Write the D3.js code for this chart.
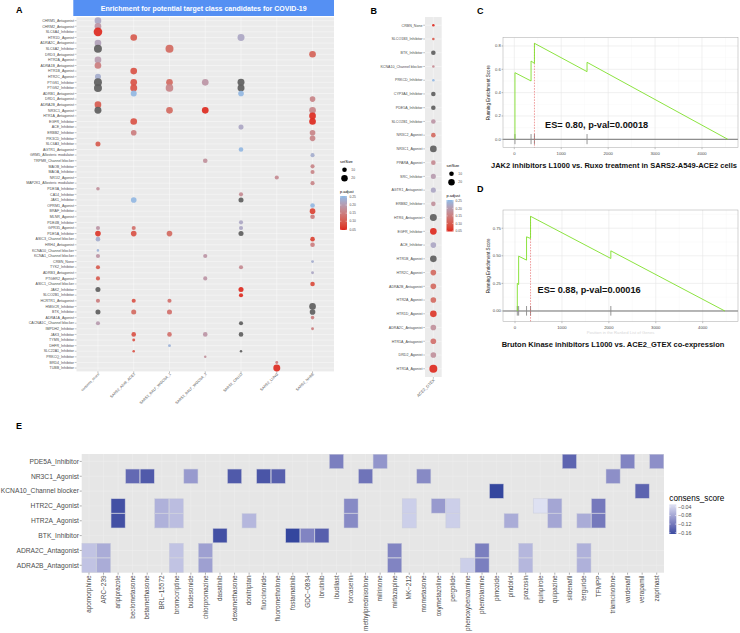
<!DOCTYPE html>
<html><head><meta charset="utf-8">
<script src="https://cdn.jsdelivr.net/npm/d3@7"></script>
<style>
body{margin:0;background:#fff}
svg{display:block}
text{font-family:"Liberation Sans",Arial,Helvetica,sans-serif}
</style>
</head><body>
<svg id="chart" width="740" height="633"></svg>
<script>
// ---------------- DATA ----------------
const aTitle = "Enrichment for potential target class candidates for COVID-19";
const aTargets = ["CHRM5_Antagonist","CHRM2_Antagonist","SLC6A4_Inhibitor","HTR1D_Agonist","ADRA2C_Antagonist","SLC6A2_Inhibitor","DRD3_Antagonist","HTR2A_Agonist","ADRA1B_Antagonist","HTR1B_Agonist","HTR2C_Agonist","PTGS1_Inhibitor","PTGS2_Inhibitor","ADRB1_Antagonist","DRD1_Antagonist","ADRA2B_Antagonist","NR3C1_Agonist","HTR1A_Antagonist","EGFR_Inhibitor","ACE_Inhibitor","ERBB2_Inhibitor","PIK3CD_Inhibitor","SLC6A3_Inhibitor","AGTR1_Antagonist","GRM5_Allosteric modulator","TRPM8_Channel blocker","MAOB_Inhibitor","MAOA_Inhibitor","NR1I2_Agonist","MAP2K1_Allosteric modulator","PDE3A_Inhibitor","CA14_Inhibitor","JAK1_Inhibitor","OPRM1_Agonist","BRAF_Inhibitor","MLNR_Agonist","PDE4B_Inhibitor","GPR35_Agonist","PDE5A_Inhibitor","ASIC3_Channel blocker","HRH4_Antagonist","KCNA10_Channel blocker","KCNA1_Channel blocker","CRBN_None","TYK2_Inhibitor","ADRB3_Antagonist","PTGER2_Agonist","ASIC1_Channel blocker","JAK2_Inhibitor","SLCO2B1_Inhibitor","HCRTR1_Antagonist","HMGCR_Inhibitor","BTK_Inhibitor","ADRA1A_Agonist","CACNA1C_Channel blocker","IMPDH2_Inhibitor","JAK3_Inhibitor","TYMS_Inhibitor","DHFR_Inhibitor","SLC22A1_Inhibitor","PRKCQ_Inhibitor","BRD4_Inhibitor","TUBB_Inhibitor"];
const aSets = ["consens_score","SARS2_A549_ACE2","SARS2_BALF_WGCNA_1","SARS2_BALF_WGCNA_2","SARS2_CALU3","SARS2_LUNG","SARS2_NHBE"];
// [target, set, setSize, p.adjust (null = out of range)]
const aDots = [
 ["CHRM5_Antagonist","consens_score",21,0.22],["CHRM2_Antagonist","consens_score",21,0.19],["SLC6A4_Inhibitor","consens_score",35,0.05],
 ["ADRA2C_Antagonist","consens_score",21,0.21],["SLC6A2_Inhibitor","consens_score",30,null],["HTR2A_Agonist","consens_score",21,0.20],
 ["ADRA1B_Antagonist","consens_score",21,0.15],["HTR2C_Agonist","consens_score",17,0.23],["PTGS1_Inhibitor","consens_score",30,null],
 ["PTGS2_Inhibitor","consens_score",30,null],["ADRA2B_Antagonist","consens_score",21,0.10],["NR3C1_Agonist","consens_score",23,null],
 ["SLC6A3_Inhibitor","consens_score",12,0.10],["PDE3A_Inhibitor","consens_score",6,0.18],["GPR35_Agonist","consens_score",8,0.19],
 ["PDE5A_Inhibitor","consens_score",15,0.06],["ASIC3_Channel blocker","consens_score",10,0.23],["KCNA10_Channel blocker","consens_score",3,0.24],
 ["KCNA1_Channel blocker","consens_score",8,0.19],["TYK2_Inhibitor","consens_score",8,0.10],["PTGER2_Agonist","consens_score",8,0.10],
 ["JAK2_Inhibitor","consens_score",12,null],["HCRTR1_Antagonist","consens_score",8,0.15],["BTK_Inhibitor","consens_score",12,null],
 ["CACNA1C_Channel blocker","consens_score",8,0.20],
 ["HTR1D_Agonist","SARS2_A549_ACE2",21,0.10],["HTR1B_Agonist","SARS2_A549_ACE2",21,0.09],["PTGS1_Inhibitor","SARS2_A549_ACE2",21,0.09],
 ["PTGS2_Inhibitor","SARS2_A549_ACE2",23,0.09],["ADRB1_Antagonist","SARS2_A549_ACE2",17,0.25],["EGFR_Inhibitor","SARS2_A549_ACE2",21,0.09],
 ["ERBB2_Inhibitor","SARS2_A549_ACE2",15,0.15],["JAK1_Inhibitor","SARS2_A549_ACE2",15,0.25],["GPR35_Agonist","SARS2_A549_ACE2",8,0.13],
 ["PDE5A_Inhibitor","SARS2_A549_ACE2",15,0.09],["HCRTR1_Antagonist","SARS2_A549_ACE2",8,0.09],["BTK_Inhibitor","SARS2_A549_ACE2",12,0.12],
 ["JAK3_Inhibitor","SARS2_A549_ACE2",10,0.09],["TYMS_Inhibitor","SARS2_A549_ACE2",4,0.09],["SLC22A1_Inhibitor","SARS2_A549_ACE2",3,0.09],
 ["SLC6A2_Inhibitor","SARS2_BALF_WGCNA_1",30,0.12],["PTGS1_Inhibitor","SARS2_BALF_WGCNA_1",21,0.12],["PTGS2_Inhibitor","SARS2_BALF_WGCNA_1",27,0.16],
 ["NR3C1_Agonist","SARS2_BALF_WGCNA_1",21,0.12],["PDE5A_Inhibitor","SARS2_BALF_WGCNA_1",15,0.12],["HCRTR1_Antagonist","SARS2_BALF_WGCNA_1",8,0.13],
 ["BTK_Inhibitor","SARS2_BALF_WGCNA_1",12,0.13],["JAK3_Inhibitor","SARS2_BALF_WGCNA_1",10,0.13],["DHFR_Inhibitor","SARS2_BALF_WGCNA_1",4,0.24],
 ["PTGS1_Inhibitor","SARS2_BALF_WGCNA_2",21,0.19],["NR3C1_Agonist","SARS2_BALF_WGCNA_2",21,0.05],["TRPM8_Channel blocker","SARS2_BALF_WGCNA_2",10,0.18],
 ["KCNA1_Channel blocker","SARS2_BALF_WGCNA_2",8,0.19],["PTGER2_Agonist","SARS2_BALF_WGCNA_2",8,0.19],["JAK3_Inhibitor","SARS2_BALF_WGCNA_2",10,0.19],
 ["PRKCQ_Inhibitor","SARS2_BALF_WGCNA_2",3,0.18],
 ["HTR1D_Agonist","SARS2_CALU3",23,0.22],["PTGS1_Inhibitor","SARS2_CALU3",23,null],["PTGS2_Inhibitor","SARS2_CALU3",23,null],
 ["ADRB1_Antagonist","SARS2_CALU3",15,0.25],["ACE_Inhibitor","SARS2_CALU3",12,0.22],["AGTR1_Antagonist","SARS2_CALU3",10,0.25],
 ["CA14_Inhibitor","SARS2_CALU3",8,0.17],["JAK1_Inhibitor","SARS2_CALU3",12,null],["PDE4B_Inhibitor","SARS2_CALU3",8,0.22],
 ["GPR35_Agonist","SARS2_CALU3",8,0.22],["PDE5A_Inhibitor","SARS2_CALU3",12,null],["TYK2_Inhibitor","SARS2_CALU3",8,0.17],
 ["JAK2_Inhibitor","SARS2_CALU3",12,0.05],["SLCO2B1_Inhibitor","SARS2_CALU3",8,0.05],["CACNA1C_Channel blocker","SARS2_CALU3",8,null],
 ["JAK3_Inhibitor","SARS2_CALU3",10,null],["SLC22A1_Inhibitor","SARS2_CALU3",3,null],
 ["NR1I2_Agonist","SARS2_LUNG",8,0.17],["BRD4_Inhibitor","SARS2_LUNG",4,0.15],["TUBB_Inhibitor","SARS2_LUNG",23,0.05],
 ["DRD3_Antagonist","SARS2_NHBE",21,0.11],["DRD1_Antagonist","SARS2_NHBE",15,0.16],["NR3C1_Agonist","SARS2_NHBE",21,0.16],
 ["HTR1A_Antagonist","SARS2_NHBE",21,0.05],["EGFR_Inhibitor","SARS2_NHBE",21,0.05],["ERBB2_Inhibitor","SARS2_NHBE",15,0.16],
 ["PIK3CD_Inhibitor","SARS2_NHBE",15,0.16],["GRM5_Allosteric modulator","SARS2_NHBE",8,0.23],["MAOB_Inhibitor","SARS2_NHBE",8,0.16],
 ["MAOA_Inhibitor","SARS2_NHBE",8,0.16],["MAP2K1_Allosteric modulator","SARS2_NHBE",8,0.16],["OPRM1_Agonist","SARS2_NHBE",10,0.25],
 ["BRAF_Inhibitor","SARS2_NHBE",15,0.07],["MLNR_Agonist","SARS2_NHBE",10,0.15],["ASIC3_Channel blocker","SARS2_NHBE",10,0.07],
 ["HRH4_Antagonist","SARS2_NHBE",10,0.15],["CRBN_None","SARS2_NHBE",4,0.23],["ADRB3_Antagonist","SARS2_NHBE",4,0.22],
 ["ASIC1_Channel blocker","SARS2_NHBE",10,0.08],["HMGCR_Inhibitor","SARS2_NHBE",21,null],["BTK_Inhibitor","SARS2_NHBE",15,null],
 ["ADRA1A_Agonist","SARS2_NHBE",6,0.15],["IMPDH2_Inhibitor","SARS2_NHBE",4,0.15]
];
const bTargets = ["CRBN_None","SLCO1B3_Inhibitor","BTK_Inhibitor","KCNA10_Channel blocker","PRKCD_Inhibitor","CYP3A4_Inhibitor","PDE5A_Inhibitor","SLCO2B1_Inhibitor","NR3C2_Agonist","NR3C1_Agonist","PPARA_Agonist","SRC_Inhibitor","AGTR1_Antagonist","ERBB2_Inhibitor","HTR6_Antagonist","EGFR_Inhibitor","ACE_Inhibitor","HTR1B_Agonist","HTR2C_Agonist","ADRA2B_Antagonist","HTR2A_Agonist","HTR1D_Agonist","ADRA2C_Antagonist","HTR1A_Antagonist","DRD2_Agonist","HTR1A_Agonist"];
const bSets = ["ACE2_GTEX"];
const bSizes = [3,3,10,3,3,10,10,10,10,21,10,12,12,10,23,21,15,21,15,15,15,21,15,15,15,30];
const bPadj = [0.05,0.10,null,0.17,0.25,null,null,0.19,0.12,null,0.17,0.20,0.22,0.18,null,0.05,0.22,null,0.12,0.12,0.12,0.06,0.18,0.13,0.18,0.05];
const sizeBreaks = [10, 20];
const padjBreaks = [0.25, 0.20, 0.15, 0.10, 0.05];

const cCaption = "JAK2 inhibitors L1000 vs. Ruxo treatment in SARS2-A549-ACE2 cells";
const cLabel = "ES= 0.80, p-val=0.00018";
const cHits = [14, 357, 429, 1550];
const cPos = [14, 14, 357, 357, 429, 429, 1550, 1550, 4550];
const cScore = [0, 0.571, 0.500, 0.671, 0.651, 0.823, 0.580, 0.660, 0];
const cPeak = 429;
const dCaption = "Bruton Kinase inhibitors L1000 vs. ACE2_GTEX co-expression";
const dLabel = "ES= 0.88, p-val=0.00016";
const dHits = [49, 77, 246, 331, 2042];
const dPos = [49, 49, 77, 77, 246, 246, 331, 331, 2042, 2042, 4472];
const dScore = [0, 0.250, 0.240, 0.497, 0.461, 0.672, 0.657, 0.858, 0.476, 0.545, 0];
const dPeak = 331;
const cXTicks = [0, 1000, 2000, 3000, 4000];
const cYTicks = [0, 0.2, 0.4, 0.6, 0.8];
const dYTicks = [0, 0.25, 0.5, 0.75];

const eTargets = ["PDE5A_Inhibitor","NR3C1_Agonist","KCNA10_Channel blocker","HTR2C_Agonist","HTR2A_Agonist","BTK_Inhibitor","ADRA2C_Antagonist","ADRA2B_Antagonist"];
const eDrugs = ["apomorphine","ARC\u2212239","aripiprazole","beclometasone","betamethasone","BRL\u221215572","bromocriptine","budesonide","chlorpromazine","dasatinib","dexamethasone","donitriptan","fluocinonide","fluorometholone","fostamatinib","GDC\u22120834","ibrutinib","ibudilast","lorcaserin","methylprednisolone","milrinone","mirtazapine","MK\u2212212","mometasone","oxymetazoline","pergolide","phenoxybenzamine","phentolamine","pimozide","pindolol","prazosin","quinpirole","quipazine","sildenafil","terguride","TFMPP","triamcinolone","vardenafil","verapamil","zaprinast"];
const eTiles = [
 ["PDE5A_Inhibitor","ibudilast",-0.115],["PDE5A_Inhibitor","milrinone",-0.095],["PDE5A_Inhibitor","sildenafil",-0.14],["PDE5A_Inhibitor","vardenafil",-0.11],["PDE5A_Inhibitor","zaprinast",-0.10],
 ["NR3C1_Agonist","beclometasone",-0.135],["NR3C1_Agonist","betamethasone",-0.15],["NR3C1_Agonist","budesonide",-0.09],["NR3C1_Agonist","dexamethasone",-0.15],["NR3C1_Agonist","fluocinonide",-0.155],["NR3C1_Agonist","fluorometholone",-0.145],["NR3C1_Agonist","methylprednisolone",-0.125],["NR3C1_Agonist","mometasone",-0.105],["NR3C1_Agonist","triamcinolone",-0.10],
 ["KCNA10_Channel blocker","pimozide",-0.17],["KCNA10_Channel blocker","verapamil",-0.14],
 ["HTR2C_Agonist","aripiprazole",-0.16],["HTR2C_Agonist","BRL\u221215572",-0.07],["HTR2C_Agonist","bromocriptine",-0.06],["HTR2C_Agonist","lorcaserin",-0.105],["HTR2C_Agonist","MK\u2212212",-0.045],["HTR2C_Agonist","oxymetazoline",-0.09],["HTR2C_Agonist","pergolide",-0.045],["HTR2C_Agonist","quinpirole",-0.03],["HTR2C_Agonist","quipazine",-0.08],["HTR2C_Agonist","TFMPP",-0.12],
 ["HTR2A_Agonist","aripiprazole",-0.16],["HTR2A_Agonist","BRL\u221215572",-0.07],["HTR2A_Agonist","bromocriptine",-0.06],["HTR2A_Agonist","donitriptan",-0.065],["HTR2A_Agonist","lorcaserin",-0.105],["HTR2A_Agonist","MK\u2212212",-0.045],["HTR2A_Agonist","pergolide",-0.045],["HTR2A_Agonist","pindolol",-0.075],["HTR2A_Agonist","quipazine",-0.08],["HTR2A_Agonist","terguride",-0.075],["HTR2A_Agonist","TFMPP",-0.12],
 ["BTK_Inhibitor","dasatinib",-0.16],["BTK_Inhibitor","fostamatinib",-0.17],["BTK_Inhibitor","GDC\u22120834",-0.11],["BTK_Inhibitor","ibrutinib",-0.145],
 ["ADRA2C_Antagonist","apomorphine",-0.055],["ADRA2C_Antagonist","ARC\u2212239",-0.075],["ADRA2C_Antagonist","bromocriptine",-0.055],["ADRA2C_Antagonist","chlorpromazine",-0.085],["ADRA2C_Antagonist","mirtazapine",-0.11],["ADRA2C_Antagonist","phentolamine",-0.115],["ADRA2C_Antagonist","prazosin",-0.065],["ADRA2C_Antagonist","terguride",-0.07],
 ["ADRA2B_Antagonist","apomorphine",-0.055],["ADRA2B_Antagonist","ARC\u2212239",-0.075],["ADRA2B_Antagonist","bromocriptine",-0.055],["ADRA2B_Antagonist","chlorpromazine",-0.085],["ADRA2B_Antagonist","mirtazapine",-0.11],["ADRA2B_Antagonist","phenoxybenzamine",-0.045],["ADRA2B_Antagonist","phentolamine",-0.115],["ADRA2B_Antagonist","prazosin",-0.065],["ADRA2B_Antagonist","terguride",-0.07]
];
const eBreaks = [-0.04, -0.08, -0.12, -0.16];
const eRange = [-0.166, -0.028];

// ---------------- DRAW ----------------
const svg = d3.select("#chart");
const TXT = "#4d4d4d";
const NA_COL = "#5e5e5e";
const padjCol = d3.scaleLinear().domain([0.05, 0.25]).range(["#dd2a20", "#93b7e2"]).interpolate(d3.interpolateLab);
const sizeR = d3.scaleSqrt().domain([0, 40]).range([0, 4.6]);
const colOf = p => p == null ? NA_COL : padjCol(p);

function panelLabel(t, x, y) {
  svg.append("text").attr("x", x).attr("y", y).attr("font-size", 9).attr("font-weight", "bold").text(t);
}
panelLabel("A", 16, 13); panelLabel("B", 370.5, 13.5); panelLabel("C", 477, 13.5); panelLabel("D", 477, 192); panelLabel("E", 16, 428.5);

// ---- Panel A ----
const A = {l: 76.5, r: 334, t: 17.3, b: 371.4};
const xA = d3.scalePoint().domain(aSets).range([A.l, A.r]).padding(0.6);
const yA = d3.scalePoint().domain(aTargets).range([A.t, A.b]).padding(0.6);
svg.append("rect").attr("x", 73.3).attr("y", 0).attr("width", A.r - 73.3).attr("height", 16).attr("fill", "#5590f3");
svg.append("text").attr("x", (73.3 + A.r) / 2).attr("y", 8.4).attr("dy", "0.35em").attr("text-anchor", "middle")
  .attr("fill", "#fff").attr("font-size", 7).attr("font-weight", "bold").text(aTitle);
const gA = svg.append("g");
gA.append("rect").attr("x", A.l).attr("y", A.t).attr("width", A.r - A.l).attr("height", A.b - A.t).attr("fill", "#ebebeb");
gA.selectAll(".hg").data(aTargets).join("line").attr("x1", A.l).attr("x2", A.r)
  .attr("y1", d => yA(d)).attr("y2", d => yA(d)).attr("stroke", "#fff").attr("stroke-width", 0.4);
gA.selectAll(".vg").data(aSets).join("line").attr("y1", A.t).attr("y2", A.b)
  .attr("x1", d => xA(d)).attr("x2", d => xA(d)).attr("stroke", "#fff").attr("stroke-width", 0.4);
gA.selectAll(".rt").data(aTargets).join("line").attr("x1", A.l - 1.8).attr("x2", A.l)
  .attr("y1", d => yA(d)).attr("y2", d => yA(d)).attr("stroke", "#333").attr("stroke-width", 0.3);
gA.selectAll(".rl").data(aTargets).join("text").attr("x", A.l - 2.6).attr("y", d => yA(d)).attr("dy", "0.35em")
  .attr("text-anchor", "end").attr("font-size", 3.6).attr("fill", TXT).text(d => d);
gA.selectAll(".ct").data(aSets).join("line").attr("y1", A.b).attr("y2", A.b + 1.8)
  .attr("x1", d => xA(d)).attr("x2", d => xA(d)).attr("stroke", "#333").attr("stroke-width", 0.3);
gA.selectAll(".cl").data(aSets).join("text").attr("transform", d => `translate(${xA(d) + 1.6},${A.b + 3})rotate(-45)`)
  .attr("text-anchor", "end").attr("font-size", 3.6).attr("fill", TXT).text(d => d);
gA.selectAll(".dot").data(aDots).join("circle").attr("cx", d => xA(d[1])).attr("cy", d => yA(d[0]))
  .attr("r", d => sizeR(d[2])).attr("fill", d => colOf(d[3])).attr("fill-opacity", 0.92);

// legends (A and B)
const defs = svg.append("defs");
const pg = defs.append("linearGradient").attr("id", "padjGrad").attr("x1", 0).attr("y1", 0).attr("x2", 0).attr("y2", 1);
d3.range(0, 1.001, 0.1).forEach(t => pg.append("stop").attr("offset", t).attr("stop-color", padjCol(0.256 - t * 0.21)));
function dotLegend(x, y0, dx, pTop, pBot, lx) {
  const g = svg.append("g");
  g.append("text").attr("x", x).attr("y", y0).attr("font-size", 3.9).attr("fill", "#000").text("setSize");
  sizeBreaks.forEach((s, i) => {
    const cy = y0 + 7.3 + i * 8.4;
    g.append("circle").attr("cx", x + dx).attr("cy", cy).attr("r", sizeR(s)).attr("fill", "#000");
    g.append("text").attr("x", x + dx + 6.8).attr("y", cy).attr("dy", "0.35em").attr("font-size", 3.3).attr("fill", TXT).text(s);
  });
  g.append("text").attr("x", x).attr("y", pTop - 3.5).attr("font-size", 3.9).attr("fill", "#000").text("p.adjust");
  g.append("rect").attr("x", x).attr("y", pTop).attr("width", 7).attr("height", pBot - pTop).attr("fill", "url(#padjGrad)");
  const py = d3.scaleLinear().domain([0.256, 0.046]).range([pTop, pBot]);
  padjBreaks.forEach(p => {
    g.append("line").attr("x1", x).attr("x2", x + 1.4).attr("y1", py(p)).attr("y2", py(p)).attr("stroke", "#fff").attr("stroke-width", 0.4);
    g.append("line").attr("x1", x + 5.6).attr("x2", x + 7).attr("y1", py(p)).attr("y2", py(p)).attr("stroke", "#fff").attr("stroke-width", 0.4);
    g.append("text").attr("x", lx).attr("y", py(p)).attr("dy", "0.35em").attr("font-size", 3.3).attr("fill", TXT).text(p.toFixed(2));
  });
}
dotLegend(340, 162.5, 4.5, 196, 230, 349.5);
dotLegend(446.5, 166.5, 5, 200, 231.5, 455.5);

// ---- Panel B ----
const B = {l: 425, r: 441.7, t: 17, b: 377};
const xB = d3.scalePoint().domain(bSets).range([B.l, B.r]).padding(0.6);
const yB = d3.scalePoint().domain(bTargets).range([B.t, B.b]).padding(0.6);
const gB = svg.append("g");
gB.append("rect").attr("x", B.l).attr("y", B.t).attr("width", B.r - B.l).attr("height", B.b - B.t).attr("fill", "#ebebeb");
gB.selectAll(".hg").data(bTargets).join("line").attr("x1", B.l).attr("x2", B.r)
  .attr("y1", d => yB(d)).attr("y2", d => yB(d)).attr("stroke", "#fff").attr("stroke-width", 0.4);
gB.append("line").attr("x1", xB(bSets[0])).attr("x2", xB(bSets[0])).attr("y1", B.t).attr("y2", B.b).attr("stroke", "#fff").attr("stroke-width", 0.4);
gB.selectAll(".rt").data(bTargets).join("line").attr("x1", B.l - 1.8).attr("x2", B.l)
  .attr("y1", d => yB(d)).attr("y2", d => yB(d)).attr("stroke", "#333").attr("stroke-width", 0.3);
gB.selectAll(".rl").data(bTargets).join("text").attr("x", B.l - 2.6).attr("y", d => yB(d)).attr("dy", "0.35em")
  .attr("text-anchor", "end").attr("font-size", 3.6).attr("fill", TXT).text(d => d);
gB.append("line").attr("x1", xB(bSets[0])).attr("x2", xB(bSets[0])).attr("y1", B.b).attr("y2", B.b + 1.8).attr("stroke", "#333").attr("stroke-width", 0.3);
gB.append("text").attr("transform", `translate(${xB(bSets[0]) + 1.8},${B.b + 3.5})rotate(-45)`)
  .attr("text-anchor", "end").attr("font-size", 4).attr("fill", TXT).text(bSets[0]);
gB.selectAll(".dot").data(bTargets).join("circle").attr("cx", xB(bSets[0])).attr("cy", d => yB(d))
  .attr("r", (d, i) => sizeR(bSizes[i])).attr("fill", (d, i) => colOf(bPadj[i])).attr("fill-opacity", 0.92);

// ---- Panels C & D (GSEA) ----
function gsea(P, xDom, yDom, yTicks, yFmt, pos, score, hits, peak, label, labX, labY, caption, capX, capY, xTitle) {
  const x = d3.scaleLinear().domain(xDom).range([P.l, P.r]);
  const y = d3.scaleLinear().domain(yDom).range([P.b, P.t]);
  const g = svg.append("g");
  g.append("rect").attr("x", P.l).attr("y", P.t).attr("width", P.r - P.l).attr("height", P.b - P.t).attr("fill", "#fff");
  const xMinor = [500, 1500, 2500, 3500, 4500];
  const step = yTicks[1] - yTicks[0];
  const yMinor = yTicks.map(t => t + step / 2).concat([yTicks[0] - step / 2]).filter(v => v < yDom[1] && v > yDom[0]);
  xMinor.forEach(v => g.append("line").attr("x1", x(v)).attr("x2", x(v)).attr("y1", P.t).attr("y2", P.b).attr("stroke", "#f3f3f3").attr("stroke-width", 0.35));
  yMinor.forEach(v => g.append("line").attr("y1", y(v)).attr("y2", y(v)).attr("x1", P.l).attr("x2", P.r).attr("stroke", "#f3f3f3").attr("stroke-width", 0.35));
  cXTicks.forEach(v => g.append("line").attr("x1", x(v)).attr("x2", x(v)).attr("y1", P.t).attr("y2", P.b).attr("stroke", "#e6e6e6").attr("stroke-width", 0.6));
  yTicks.forEach(v => g.append("line").attr("y1", y(v)).attr("y2", y(v)).attr("x1", P.l).attr("x2", P.r).attr("stroke", "#e6e6e6").attr("stroke-width", 0.6));
  g.append("line").attr("x1", P.l).attr("x2", P.r).attr("y1", y(0)).attr("y2", y(0)).attr("stroke", "#666").attr("stroke-width", 0.9);
  g.selectAll(".hit").data(hits).join("line").attr("x1", d => x(d)).attr("x2", d => x(d))
    .attr("y1", y(0.045)).attr("y2", y(-0.042)).attr("stroke", "#8a8a8a").attr("stroke-width", 0.9);
  g.append("line").attr("x1", x(peak)).attr("x2", x(peak)).attr("y1", y(d3.max(score))).attr("y2", P.b)
    .attr("stroke", "#e45a5a").attr("stroke-width", 0.6).attr("stroke-dasharray", "1.6,1.2");
  const pts = pos.map((p, i) => [p, score[i]]);
  g.append("path").attr("d", d3.line().x(d => x(d[0])).y(d => y(d[1]))(pts))
    .attr("fill", "none").attr("stroke", "#7fe02a").attr("stroke-width", 0.9);
  g.append("rect").attr("x", P.l).attr("y", P.t).attr("width", P.r - P.l).attr("height", P.b - P.t)
    .attr("fill", "none").attr("stroke", "#a6a6a6").attr("stroke-width", 0.5);
  yTicks.forEach(v => {
    g.append("line").attr("x1", P.l - 1.5).attr("x2", P.l).attr("y1", y(v)).attr("y2", y(v)).attr("stroke", "#333").attr("stroke-width", 0.3);
    g.append("text").attr("x", P.l - 2.2).attr("y", y(v)).attr("dy", "0.35em").attr("text-anchor", "end")
      .attr("font-size", 4.2).attr("fill", TXT).text(yFmt(v));
  });
  cXTicks.forEach(v => {
    g.append("line").attr("x1", x(v)).attr("x2", x(v)).attr("y1", P.b).attr("y2", P.b + 1.5).attr("stroke", "#333").attr("stroke-width", 0.3);
    g.append("text").attr("x", x(v)).attr("y", P.b + 5.4).attr("dy", "0.35em").attr("text-anchor", "middle")
      .attr("font-size", 4.2).attr("fill", TXT).text(v);
  });
  g.append("text").attr("transform", `translate(${P.l - 13.5},${(P.t + P.b) / 2})rotate(-90)`).attr("text-anchor", "middle")
    .attr("font-size", 4.6).attr("fill", "#222").text("Running Enrichment Score");
  if (xTitle) g.append("text").attr("x", (P.l + P.r) / 2).attr("y", P.b + 11).attr("dy", "0.35em").attr("text-anchor", "middle")
    .attr("font-size", 4.2).attr("fill", "#d8d8d8").text(xTitle);
  g.append("text").attr("x", labX).attr("y", labY).attr("dy", "0.35em").attr("font-size", 9.2).attr("font-weight", "bold")
    .attr("fill", "#111").text(label);
  g.append("text").attr("x", capX).attr("y", capY).attr("dy", "0.35em").attr("text-anchor", "middle").attr("font-size", 7.5).attr("font-weight", "bold")
    .attr("fill", "#111").text(caption);
}
gsea({l: 503, r: 738, t: 37.7, b: 147.7}, [-241, 4767], [-0.072, 0.871], cYTicks, d3.format(".1f"),
  cPos, cScore, cHits, cPeak, cLabel, 545, 124.5, cCaption, 614, 165.8, null);
gsea({l: 503, r: 738, t: 210, b: 321.7}, [-256, 4752], [-0.097, 0.915], dYTicks, d3.format(".2f"),
  dPos, dScore, dHits, dPeak, dLabel, 537.5, 289.5, dCaption, 613, 344.2, "Position in the Ranked List of Genes");

// ---- Panel E (heatmap) ----
const E = {l: 81.7, r: 664, t: 454, b: 572.7};
const xE = d3.scaleBand().domain(eDrugs).range([E.l, E.r]);
const yE = d3.scaleBand().domain(eTargets).range([E.t, E.b]);
const eCol = d3.scaleLinear().domain(eRange).range(["#3a4aa0", "#e0e3f3"]).interpolate(d3.interpolateLab);
const gE = svg.append("g");
gE.append("rect").attr("x", E.l).attr("y", E.t).attr("width", E.r - E.l).attr("height", E.b - E.t).attr("fill", "#e6e6e6");
gE.selectAll(".vg").data(eDrugs).join("line").attr("x1", d => xE(d) + xE.bandwidth() / 2).attr("x2", d => xE(d) + xE.bandwidth() / 2)
  .attr("y1", E.t).attr("y2", E.b).attr("stroke", "#efefef").attr("stroke-width", 0.5);
gE.selectAll(".hg").data(eTargets).join("line").attr("y1", d => yE(d) + yE.bandwidth() / 2).attr("y2", d => yE(d) + yE.bandwidth() / 2)
  .attr("x1", E.l).attr("x2", E.r).attr("stroke", "#efefef").attr("stroke-width", 0.5);
gE.selectAll(".tile").data(eTiles).join("rect")
  .attr("x", d => xE(d[1]) + 0.25).attr("y", d => yE(d[0]) + 0.25)
  .attr("width", xE.bandwidth() - 0.5).attr("height", yE.bandwidth() - 0.5)
  .attr("fill", d => eCol(d[2])).attr("stroke", "#c9cbdc").attr("stroke-width", 0.5).attr("stroke-opacity", 0.9);
gE.selectAll(".rt").data(eTargets).join("line").attr("x1", E.l - 2).attr("x2", E.l)
  .attr("y1", d => yE(d) + yE.bandwidth() / 2).attr("y2", d => yE(d) + yE.bandwidth() / 2).attr("stroke", "#333").attr("stroke-width", 0.4);
gE.selectAll(".rl").data(eTargets).join("text").attr("x", E.l - 2.8).attr("y", d => yE(d) + yE.bandwidth() / 2).attr("dy", "0.35em")
  .attr("text-anchor", "end").attr("font-size", 6.7).attr("fill", TXT).text(d => d);
gE.selectAll(".ct").data(eDrugs).join("line").attr("x1", d => xE(d) + xE.bandwidth() / 2).attr("x2", d => xE(d) + xE.bandwidth() / 2)
  .attr("y1", E.b).attr("y2", E.b + 2).attr("stroke", "#333").attr("stroke-width", 0.4);
gE.selectAll(".cl").data(eDrugs).join("text")
  .attr("transform", d => `translate(${xE(d) + xE.bandwidth() / 2},${E.b + 2.8})rotate(-90)`)
  .attr("dy", "0.35em").attr("text-anchor", "end").attr("font-size", 6.4).attr("fill", TXT).text(d => d);
const eg = defs.append("linearGradient").attr("id", "eGrad").attr("x1", 0).attr("y1", 0).attr("x2", 0).attr("y2", 1);
d3.range(0, 1.001, 0.1).forEach(t => eg.append("stop").attr("offset", t).attr("stop-color", eCol(eRange[1] + t * (eRange[0] - eRange[1]))));
const eL = {x: 669.3, t: 504.3, b: 534};
const ey = d3.scaleLinear().domain([eRange[1], eRange[0]]).range([eL.t, eL.b]);
gE.append("text").attr("x", eL.x).attr("y", 497.8).attr("dy", "0.35em").attr("font-size", 8.2).attr("fill", "#000").text("consens_score");
gE.append("rect").attr("x", eL.x).attr("y", eL.t).attr("width", 7).attr("height", eL.b - eL.t).attr("fill", "url(#eGrad)");
eBreaks.forEach(v => {
  gE.append("line").attr("x1", eL.x).attr("x2", eL.x + 1.4).attr("y1", ey(v)).attr("y2", ey(v)).attr("stroke", "#fff").attr("stroke-width", 0.5);
  gE.append("line").attr("x1", eL.x + 5.6).attr("x2", eL.x + 7).attr("y1", ey(v)).attr("y2", ey(v)).attr("stroke", "#fff").attr("stroke-width", 0.5);
  gE.append("text").attr("x", eL.x + 8.8).attr("y", ey(v)).attr("dy", "0.35em").attr("font-size", 5.3).attr("fill", TXT)
    .text(d3.format(".2f")(v).replace("-", "\u2212"));
});
</script>
</body></html>
